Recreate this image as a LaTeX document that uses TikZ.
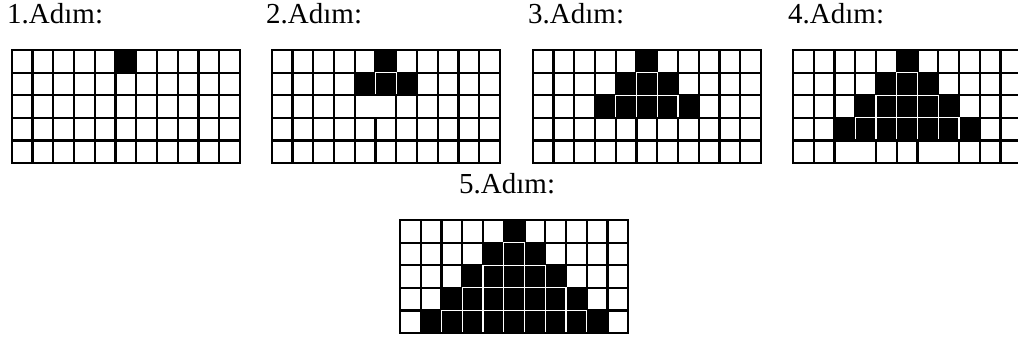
\documentclass[tikz,border=0pt]{standalone}
\usepackage{fontspec}
\setmainfont{Liberation Serif}
\tikzset{
  gridline/.style={line width=2.2pt, black, line cap=rect},
  whiteline/.style={line width=1.3pt, white, line cap=rect},
  eraseline/.style={line width=2.8pt, white, shorten <=1.2pt, shorten >=1.2pt},
  steplabel/.style={anchor=base west, inner sep=0pt, font=\fontsize{29}{32}\selectfont},
}
\newcommand\stepgrid[4]{%
\begin{scope}[shift={(#1,#2)},x=20.75pt,y=-22.6pt]
  \foreach \r in {1,...,#3}{\fill[black] (6-\r,\r-1) rectangle (5+\r,\r);}
  \foreach \k in {0,...,11}{\draw[gridline] (\k,0) -- (\k,5);}
  \foreach \j in {0,...,5}{\draw[gridline] (0,\j) -- (11,\j);}
  \if\relax\detokenize{#4}\relax\else
    \foreach \k/\r in {#4}{\draw[eraseline] (\k,\r-1) -- (\k,\r);}
  \fi
  \ifnum#3>1
    \foreach \r in {2,...,#3}{%
      \pgfmathtruncatemacro\lo{7-\r}%
      \pgfmathtruncatemacro\hi{4+\r}%
      \draw[whiteline] (\lo,\r-1) -- (\hi,\r-1);
      \foreach \k in {\lo,...,\hi}{\draw[whiteline] (\k,\r-1) -- (\k,\r);}
    }
    \draw[gridline] (0,#3) -- (11,#3);
  \fi
\end{scope}}
\begin{document}
\begin{tikzpicture}[x=1pt,y=-1pt]
  \useasboundingbox (0,0) rectangle (1018,340);
  \clip (0,0) rectangle (1018,340);
  \fill[white] (0,0) rectangle (1018,340);
  \node[steplabel] (l1) at (7,23.5) {1.Adım:};
  \node[steplabel] (l2) at (266,23.5) {2.Adım:};
  \node[steplabel] (l3) at (528,23.5) {3.Adım:};
  \node[steplabel] (l4) at (788,23.5) {4.Adım:};
  \node[steplabel] (l5) at (459,193) {5.Adım:};
  \stepgrid{11.7}{50}{1}{}
  \stepgrid{271.7}{50}{2}{5/3}
  \stepgrid{532.7}{50}{3}{}
  \stepgrid{793}{50}{4}{3/5,7/5}
  \stepgrid{400}{220}{5}{}
\end{tikzpicture}
\end{document}
